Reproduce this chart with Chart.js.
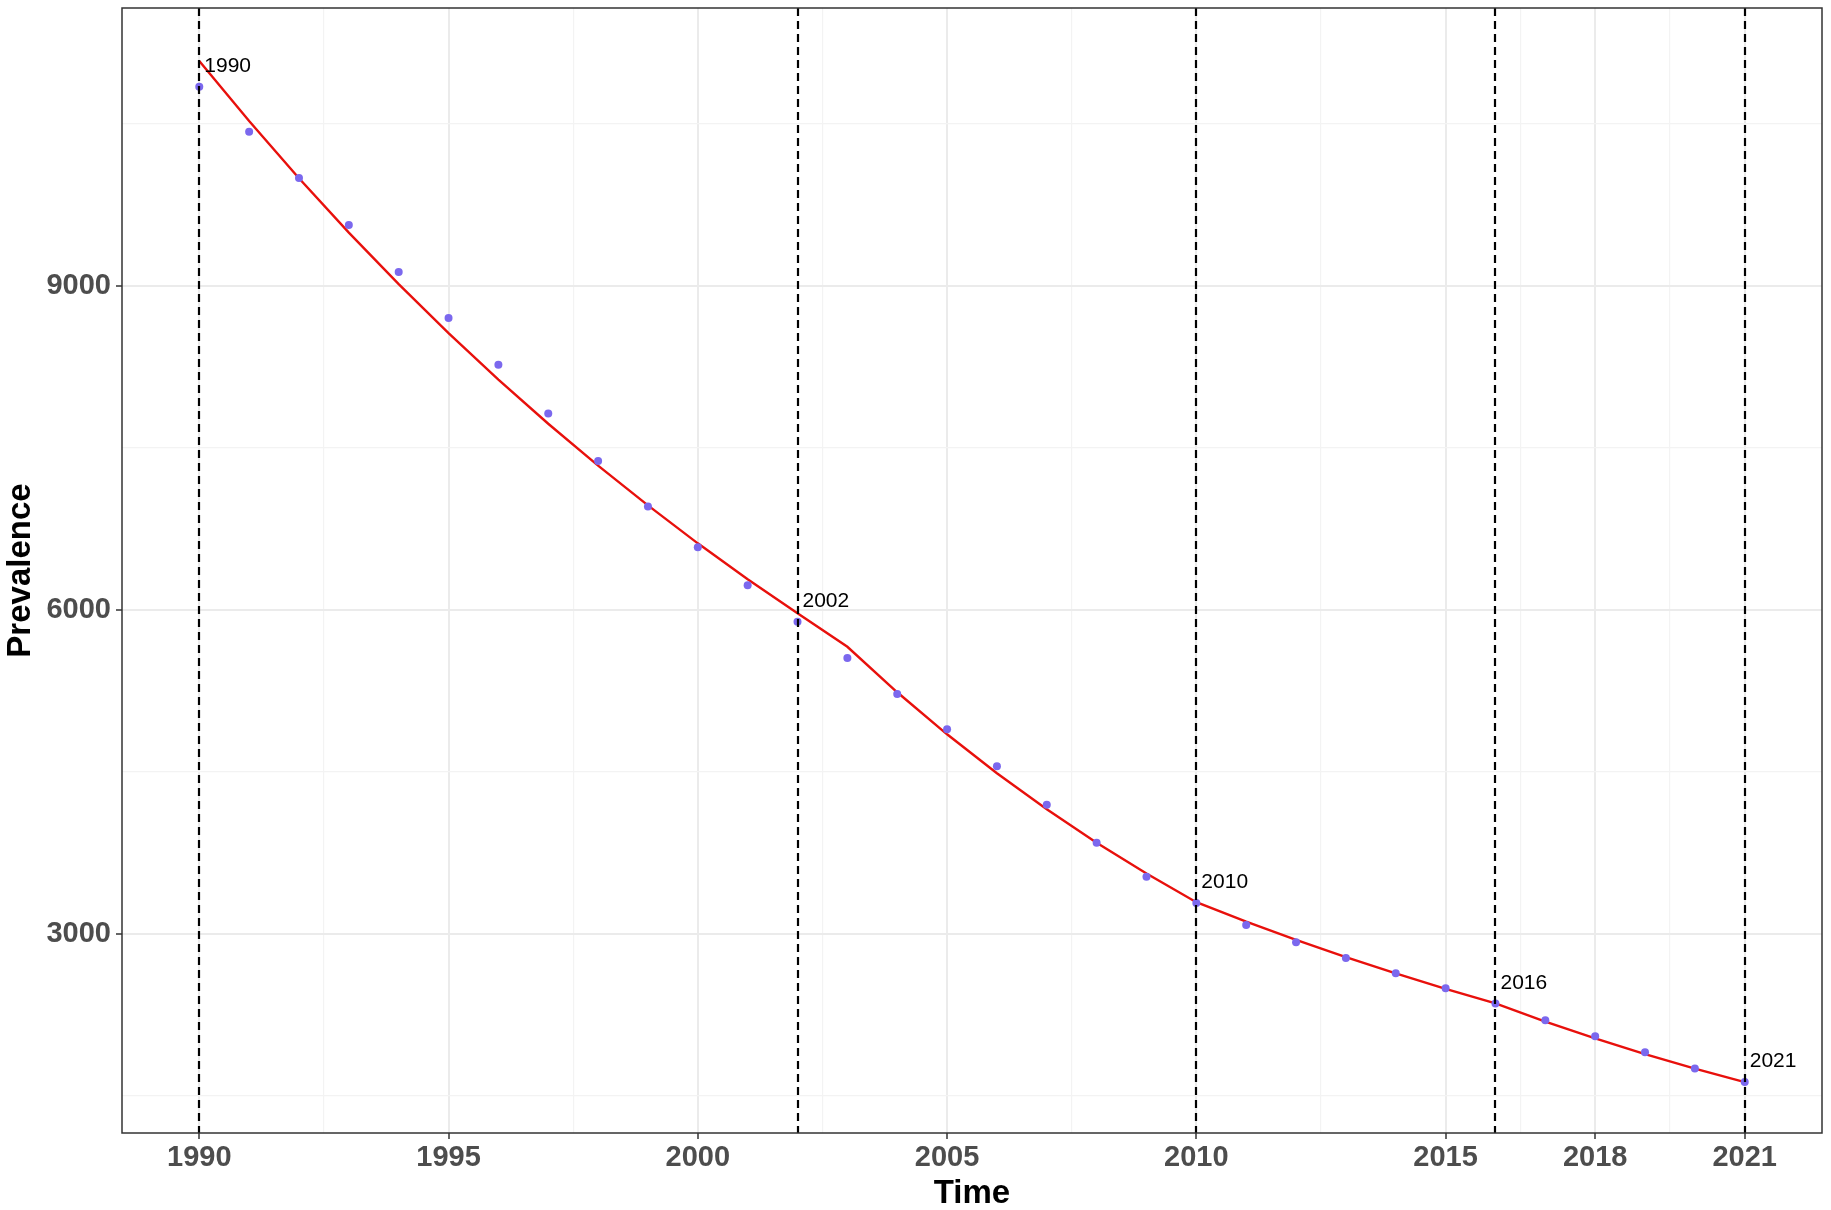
<!DOCTYPE html>
<html>
<head>
<meta charset="utf-8">
<script src="https://cdn.jsdelivr.net/npm/chart.js@4.4.1/dist/chart.umd.min.js"></script>
<style>
  html, body { margin: 0; padding: 0; background: #ffffff; }
  #chart { display: block; }
</style>
</head>
<body>
<canvas id="chart" width="1831" height="1210"></canvas>
<script>
// Observed prevalence and joinpoint fitted values
const years = [1990, 1991, 1992, 1993, 1994, 1995, 1996, 1997, 1998, 1999, 2000, 2001, 2002, 2003, 2004, 2005,
  2006, 2007, 2008, 2009, 2010, 2011, 2012, 2013, 2014, 2015, 2016, 2017, 2018, 2019, 2020, 2021];
const prevalence = [10840, 10424, 9996, 9561, 9127, 8701, 8267, 7817, 7376, 6954, 6578, 6227, 5887, 5552, 5219, 4892,
  4550, 4193, 3841, 3527, 3284, 3081, 2920, 2775, 2633, 2494, 2353, 2199, 2051, 1903, 1752, 1626];
const fitted = [11080, 10523, 9994, 9491, 9014, 8561, 8130, 7721, 7333, 6965, 6614, 6282, 5966, 5656, 5235, 4846,
  4485, 4152, 3843, 3557, 3292, 3111, 2942, 2783, 2633, 2490, 2355, 2187, 2031, 1886, 1751, 1626];
const joinpoints = [1990, 2002, 2010, 2016, 2021];

// Axis breaks
const xMajorTicks = [1990, 1995, 2000, 2005, 2010, 2015, 2018, 2021];
const xMinorTicks = [1992.5, 1997.5, 2002.5, 2007.5, 2012.5, 2016.5, 2019.5];
const yMajorTicks = [3000, 6000, 9000];
const yMinorTicks = [1500, 4500, 7500, 10500];

const tickFont = { family: '"Liberation Sans", Arial, sans-serif', size: 29, weight: 'bold' };
const titleFont = { family: '"Liberation Sans", Arial, sans-serif', size: 33, weight: 'bold', lineHeight: 1.0 };

const gridStyle = (majors) => ({
  color: (c) => majors.includes(c.tick.value) ? '#EBEBEB' : '#F3F3F3',
  lineWidth: (c) => majors.includes(c.tick.value) ? 2 : 1.2,
  tickColor: (c) => majors.includes(c.tick.value) ? '#333333' : 'rgba(0,0,0,0)',
  tickWidth: 1.5,
  tickLength: 6
});

const whiteBg = {
  id: 'whiteBg',
  beforeDraw(chart) {
    const c = chart.ctx;
    c.save();
    c.fillStyle = '#ffffff';
    c.fillRect(0, 0, chart.width, chart.height);
    c.restore();
  }
};

// dashed joinpoint lines, their labels and the panel border
const joinpointLines = {
  id: 'joinpointLines',
  afterDatasetsDraw(chart) {
    const { ctx, chartArea: a, scales: { x, y } } = chart;
    ctx.save();
    ctx.strokeStyle = '#000000';
    ctx.lineWidth = 2.2;
    ctx.setLineDash([8, 5]);
    joinpoints.forEach(yr => {
      const px = Math.round(x.getPixelForValue(yr));
      ctx.beginPath();
      ctx.moveTo(px, a.top);
      ctx.lineTo(px, a.bottom);
      ctx.stroke();
    });
    ctx.setLineDash([]);
    ctx.fillStyle = '#000000';
    ctx.font = '21px "Liberation Sans", Arial, sans-serif';
    ctx.textAlign = 'left';
    ctx.textBaseline = 'alphabetic';
    joinpoints.forEach(yr => {
      const v = prevalence[years.indexOf(yr)];
      ctx.fillText(String(yr), x.getPixelForValue(yr) + 5, y.getPixelForValue(v) - 15);
    });
    ctx.strokeStyle = '#333333';
    ctx.lineWidth = 1.5;
    ctx.strokeRect(a.left, a.top, a.right - a.left, a.bottom - a.top);
    ctx.restore();
  }
};

new Chart(document.getElementById('chart'), {
  type: 'line',
  data: {
    datasets: [{
      label: 'Observed',
      data: years.map((yr, i) => ({ x: yr, y: prevalence[i] })),
      showLine: false,
      pointRadius: 4,
      pointBackgroundColor: '#7B68EE',
      pointBorderWidth: 0
    }, {
      label: 'Fitted',
      data: years.map((yr, i) => ({ x: yr, y: fitted[i] })),
      borderColor: '#E8100C',
      borderWidth: 2.4,
      pointRadius: 0,
      tension: 0
    }]
  },
  options: {
    responsive: false,
    devicePixelRatio: 1,
    animation: false,
    layout: { padding: { top: 8, right: 9, left: 0, bottom: 0 } },
    scales: {
      x: {
        type: 'linear',
        min: 1988.45,
        max: 2022.55,
        afterBuildTicks: (s) => {
          s.ticks = [...xMajorTicks, ...xMinorTicks].sort((a, b) => a - b).map(v => ({ value: v }));
        },
        afterFit: (s) => {
          s.height = 77;
          s.paddingLeft = 0;
          s.paddingRight = 0;
        },
        border: { display: false },
        grid: gridStyle(xMajorTicks),
        ticks: {
          autoSkip: false,
          maxRotation: 0,
          padding: 2,
          color: '#4D4D4D',
          font: tickFont,
          callback: (v) => xMajorTicks.includes(v) ? String(v) : ''
        },
        title: {
          display: true,
          text: 'Time',
          color: '#000000',
          font: titleFont,
          padding: { top: 0, bottom: 0 }
        }
      },
      y: {
        type: 'linear',
        min: 1155,
        max: 11570,
        afterBuildTicks: (s) => {
          s.ticks = [...yMajorTicks, ...yMinorTicks].sort((a, b) => a - b).map(v => ({ value: v }));
        },
        afterFit: (s) => {
          s.width = 122;
          s.paddingTop = 0;
          s.paddingBottom = 0;
        },
        border: { display: false },
        grid: gridStyle(yMajorTicks),
        ticks: {
          autoSkip: false,
          padding: 5,
          color: '#4D4D4D',
          font: tickFont,
          callback: (v) => yMajorTicks.includes(v) ? String(v) : ''
        },
        title: {
          display: true,
          text: 'Prevalence',
          color: '#000000',
          font: titleFont,
          padding: { top: 4, bottom: 0 }
        }
      }
    },
    plugins: {
      legend: { display: false },
      tooltip: { enabled: false }
    }
  },
  plugins: [whiteBg, joinpointLines]
});
</script>
</body>
</html>
